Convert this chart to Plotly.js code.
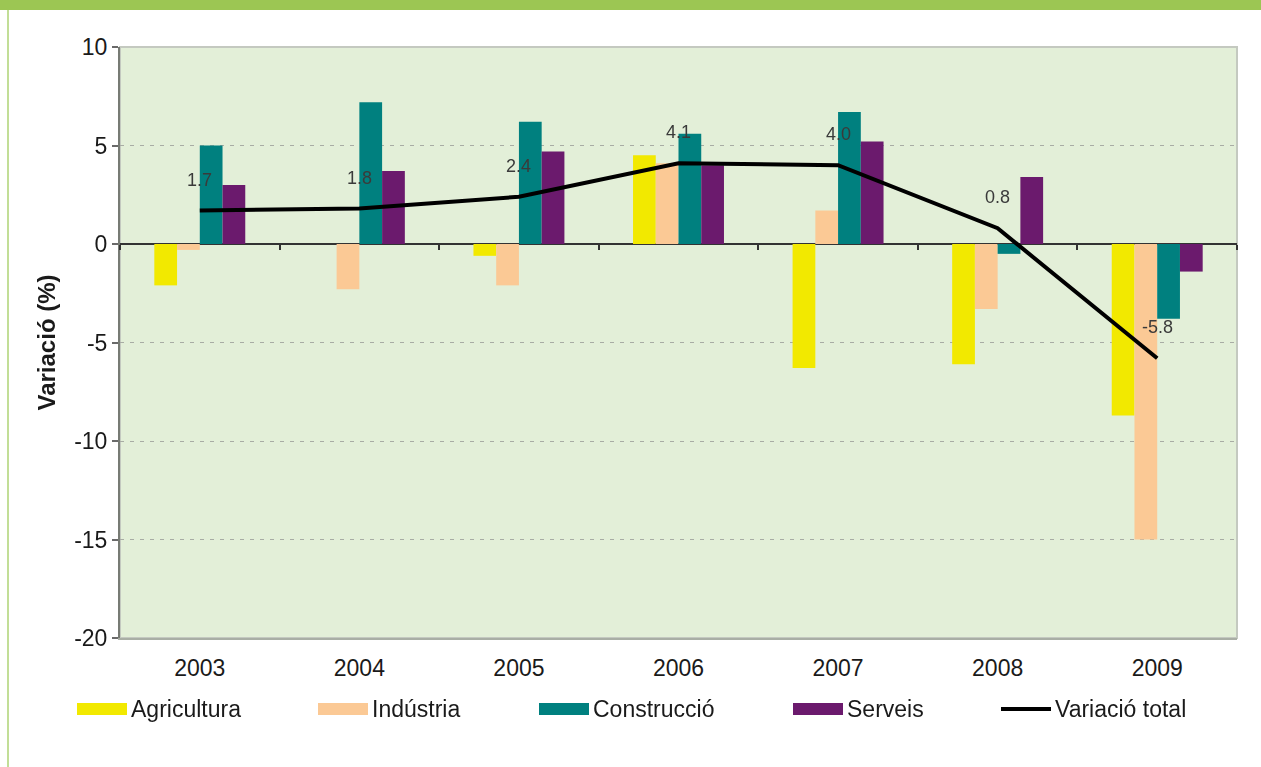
<!DOCTYPE html>
<html>
<head>
<meta charset="utf-8">
<script src="https://cdn.plot.ly/plotly-3.0.1.min.js"></script>
<style>
  html, body { margin: 0; padding: 0; background: #ffffff; }
  #chart { width: 1261px; height: 767px; }
</style>
</head>
<body>
<div id="chart"></div>
<script>
// ---- data ----
const years = ['2003', '2004', '2005', '2006', '2007', '2008', '2009'];
const agricultura = [-2.1, 0.0, -0.6, 4.5, -6.3, -6.1, -8.7];
const industria   = [-0.3, -2.3, -2.1, 4.1, 1.7, -3.3, -15.0];
const construccio = [5.0, 7.2, 6.2, 5.6, 6.7, -0.5, -3.8];
const serveis     = [3.0, 3.7, 4.7, 4.0, 5.2, 3.4, -1.4];
const variacioTotal = [1.7, 1.8, 2.4, 4.1, 4.0, 0.8, -5.8];
const seriesNames = ['Agricultura', 'Indústria', 'Construcció', 'Serveis', 'Variació total'];
const yTickVals = [10, 5, 0, -5, -10, -15, -20];

// ---- styling ----
const colors = ['#f2e900', '#fbc995', '#00807f', '#6b1a6d', '#000000'];
const FONT = '"Liberation Sans", Arial, sans-serif';
const W = 1261, H = 767;
const M = { l: 120, r: 24, t: 47, b: 129 };
const PW = W - M.l - M.r, PH = H - M.t - M.b;
const yRange = [-20, 10];
const px2x = px => (px - M.l) / PW;
const py2y = py => (H - M.b - py) / PH;

const barSeries = [agricultura, industria, construccio, serveis];
const traces = barSeries.map((vals, i) => ({
  type: 'bar',
  name: seriesNames[i],
  x: years,
  y: vals,
  marker: { color: colors[i], line: { width: 0 } },
  showlegend: false,
  hoverinfo: 'x+y+name'
}));
traces.push({
  type: 'scatter',
  mode: 'lines',
  name: seriesNames[4],
  x: years,
  y: variacioTotal,
  line: { color: colors[4], width: 4 },
  showlegend: false
});
// carrier for the category ticks drawn on the zero line
traces.push({
  type: 'scatter',
  mode: 'markers',
  x: years,
  y: variacioTotal,
  xaxis: 'x2',
  opacity: 0,
  hoverinfo: 'skip',
  showlegend: false
});

// value labels over the total line (category index on the category axis)
const annotations = years.map((yr, i) => ({
  x: i, y: variacioTotal[i], xref: 'x', yref: 'y',
  text: variacioTotal[i].toFixed(1),
  showarrow: false, yshift: 31,
  font: { family: FONT, size: 18, color: '#3a3a3a' }
}));

// custom legend (wide swatches as in the reference)
const legendItemX = [77, 318, 539, 793, 1001];
const legendCY = 709;
const shapes = [];
seriesNames.forEach((nm, i) => {
  const x0 = legendItemX[i];
  if (i < 4) {
    shapes.push({ type: 'rect', xref: 'paper', yref: 'paper',
      x0: px2x(x0), x1: px2x(x0 + 50), y0: py2y(legendCY + 6), y1: py2y(legendCY - 6),
      fillcolor: colors[i], line: { width: 0 } });
  } else {
    shapes.push({ type: 'line', xref: 'paper', yref: 'paper',
      x0: px2x(x0), x1: px2x(x0 + 50), y0: py2y(legendCY), y1: py2y(legendCY),
      line: { color: colors[i], width: 4 } });
  }
  annotations.push({ xref: 'paper', yref: 'paper', x: px2x(x0 + 52), y: py2y(legendCY),
    xanchor: 'left', yanchor: 'middle', text: nm, showarrow: false,
    font: { family: FONT, size: 23, color: '#1a1a1a' } });
});

// decorations: top green band, left green rule, plot border
shapes.push({ type: 'rect', xref: 'paper', yref: 'paper', layer: 'above',
  x0: px2x(0), x1: px2x(W), y0: py2y(10), y1: py2y(0),
  fillcolor: '#9cc653', line: { width: 0 } });
shapes.push({ type: 'line', xref: 'paper', yref: 'paper',
  x0: px2x(8), x1: px2x(8), y0: py2y(10), y1: py2y(H),
  line: { color: '#c2de97', width: 2 } });
shapes.push({ type: 'rect', xref: 'paper', yref: 'paper', layer: 'below',
  x0: 0, x1: 1, y0: 0, y1: 1, line: { color: '#c4c9c0', width: 2 } });

const layout = {
  width: W, height: H,
  margin: M,
  paper_bgcolor: '#ffffff',
  plot_bgcolor: '#e3efd8',
  font: { family: FONT, color: '#1a1a1a' },
  barmode: 'group',
  bargap: 0.43,
  bargroupgap: 0,
  showlegend: false,
  xaxis: {
    type: 'category',
    categoryorder: 'array', categoryarray: years,
    range: [-0.5, 6.5],
    showgrid: false, zeroline: false,
    showline: true, linecolor: '#a9aea5', linewidth: 2,
    ticks: '', ticklabelstandoff: 8,
    tickfont: { family: FONT, size: 23, color: '#1a1a1a' },
    fixedrange: true
  },
  xaxis2: {
    type: 'category',
    categoryorder: 'array', categoryarray: years,
    overlaying: 'x', anchor: 'free', side: 'bottom',
    position: (0 - yRange[0]) / (yRange[1] - yRange[0]),
    range: [-0.5, 6.5],
    tickson: 'boundaries', ticks: 'outside', ticklen: 5, tickwidth: 2, tickcolor: '#333',
    showticklabels: false, showgrid: false, showline: false, zeroline: false,
    fixedrange: true
  },
  yaxis: {
    range: yRange,
    tickvals: yTickVals,
    ticktext: yTickVals.map(String),
    ticks: 'outside', ticklen: 6, tickwidth: 2, tickcolor: '#6a6a6a',
    showline: true, linecolor: '#777b74', linewidth: 2,
    showgrid: true, gridcolor: '#a8aca4', gridwidth: 1, griddash: '4px,6px',
    zeroline: true, zerolinecolor: '#333333', zerolinewidth: 2,
    tickfont: { family: FONT, size: 23, color: '#1a1a1a' },
    title: { text: 'Variació (%)', standoff: 12,
      font: { family: FONT, size: 24, color: '#1a1a1a', weight: 'bold' } },
    fixedrange: true
  },
  shapes: shapes,
  annotations: annotations
};

Plotly.newPlot('chart', traces, layout, { displayModeBar: false, staticPlot: true });
</script>
</body>
</html>
